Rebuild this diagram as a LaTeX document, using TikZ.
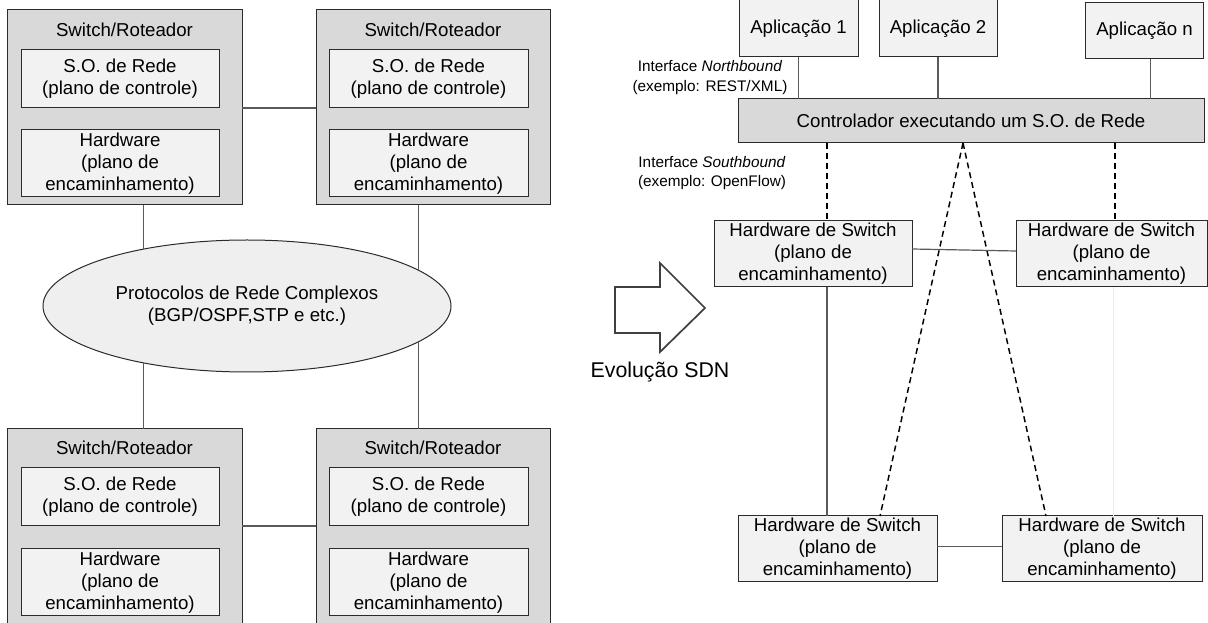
\documentclass[tikz,border=0pt]{standalone}
\usepackage{fontspec}
\setmainfont{Liberation Sans}
\usetikzlibrary{shapes.geometric}
\definecolor{outerfill}{HTML}{D9D9D9}
\definecolor{innerfill}{HTML}{F2F2F2}
\definecolor{ellfill}{HTML}{EFEFEF}
\definecolor{edgecol}{HTML}{2B2B2B}
\definecolor{wirecol}{HTML}{5A5A5A}
\definecolor{faintcol}{HTML}{EBEBEB}
\definecolor{arrowcol}{HTML}{404040}

\begin{document}
\begin{tikzpicture}[x=0.75pt,y=-0.75pt,
  sz/.style 2 args={minimum width=#1*0.75pt, minimum height=#2*0.75pt},
  blk/.style={draw=edgecol, line width=0.75pt, inner sep=0pt, outer sep=0pt,
    align=center, font=\fontsize{14}{16.5}\selectfont},
  panel/.style={blk, fill=outerfill},
  part/.style={blk, fill=innerfill},
  txt/.style={inner sep=0pt, align=center, font=\fontsize{14}{16.5}\selectfont},
  smalltxt/.style={inner sep=0pt, align=center, font=\fontsize{11.5}{14.7}\selectfont},
  wire/.style={draw=wirecol, line width=0.9pt},
  ctrlwire/.style={draw=black, line width=1.1pt, dash pattern=on 4.5pt off 3pt},
]
\useasboundingbox (0,0) rectangle (1208,623);

% ---------- traditional network: four switch/router panels ----------
\node[panel, sz={235}{195}] (tl) at (124.5,107.5) {};
\node[txt] (tlt) at (124.5,30) {Switch/Roteador};
\node[part, sz={198}{58}] (tlso) at (120,79) {S.O. de Rede\\(plano de controle)};
\node[part, sz={198}{67}] (tlhw) at (120,163.5) {Hardware\\(plano de\\encaminhamento)};

\node[panel, sz={234}{195}] (tr) at (433,107.5) {};
\node[txt] (trt) at (433,30) {Switch/Roteador};
\node[part, sz={199}{58}] (trso) at (428.5,79) {S.O. de Rede\\(plano de controle)};
\node[part, sz={199}{67}] (trhw) at (428.5,163.5) {Hardware\\(plano de\\encaminhamento)};

\node[panel, sz={235}{195}] (bl) at (124.5,526.5) {};
\node[txt] (blt) at (124.5,448) {Switch/Roteador};
\node[part, sz={198}{58}] (blso) at (120,497) {S.O. de Rede\\(plano de controle)};
\node[part, sz={198}{67}] (blhw) at (120,582.5) {Hardware\\(plano de\\encaminhamento)};

\node[panel, sz={234}{195}] (br) at (433,526.5) {};
\node[txt] (brt) at (433,448) {Switch/Roteador};
\node[part, sz={199}{58}] (brso) at (428.5,497) {S.O. de Rede\\(plano de controle)};
\node[part, sz={199}{67}] (brhw) at (428.5,582.5) {Hardware\\(plano de\\encaminhamento)};

% distributed protocols
\node[ellipse, draw=edgecol, line width=0.75pt, fill=ellfill, inner sep=0pt,
  sz={408}{132}, align=center, font=\fontsize{14}{16.5}\selectfont] (ell) at (247,306)
  {Protocolos de Rede Complexos\\(BGP/OSPF,STP e etc.)};

\draw[wire] (tlso.south -| tl.east) -- (tlso.south -| tr.west);
\draw[wire] (blso.south -| bl.east) -- (blso.south -| br.west);
\draw[wire] (tl.south -| ell.151) -- (ell.151);
\draw[wire] (tr.south -| ell.12) -- (ell.12);
\draw[wire] (ell.-151) -- (ell.-151 |- bl.north);
\draw[wire] (ell.-12) -- (ell.-12 |- br.north);

% ---------- evolution arrow ----------
\draw[draw=arrowcol, fill=white, line width=1.3pt, line join=miter]
  (615,287) -- (660,287) -- (660,263) -- (705,308) -- (660,352)
  -- (660,333) -- (615,333) -- cycle;
\node[inner sep=0pt, font=\fontsize{16}{19}\selectfont] (evo) at (660,372) {Evolução SDN};

% ---------- SDN architecture ----------
\node[part, sz={119}{57}] (a1) at (798.5,28.5) {Aplicação 1};
\node[part, sz={118}{57}] (a2) at (938,28.5) {Aplicação 2};
\node[part, sz={118}{56}] (an) at (1144.5,31) {Aplicação n};

\node[panel, sz={466}{44}] (ctl) at (971,121) {Controlador executando um S.O. de Rede};

\node[part, sz={198}{66}] (s1) at (813,254) {Hardware de Switch\\(plano de\\encaminhamento)};
\node[part, sz={191}{66}] (s2) at (1111.5,254) {Hardware de Switch\\(plano de\\encaminhamento)};
\node[part, sz={199}{66}] (s3) at (837.5,549) {Hardware de Switch\\(plano de\\encaminhamento)};
\node[part, sz={200}{66}] (s4) at (1102,549) {Hardware de Switch\\(plano de\\encaminhamento)};

\node[smalltxt] (nb) at (710,77.5) {Interface \textit{Northbound}\\(exemplo: REST/XML)};
\node[smalltxt] (sb) at (712,173) {Interface \textit{Southbound}\\(exemplo: OpenFlow)};

% reference columns for the links
\coordinate (k1) at (827,0);
\coordinate (k2) at (1115,0);
\coordinate (k3) at (1113,0);
\coordinate (apx) at (963,0);
\coordinate (e1) at (880,0);
\coordinate (e2) at (1046,0);

% northbound links
\draw[wire] (a1.south) -- (a1.south |- ctl.north);
\draw[wire] (a2.south) -- (a2.south |- ctl.north);
\draw[wire] ([xshift=4.5pt]an.south) -- ([xshift=4.5pt]an.south |- ctl.north);

% southbound links
\draw[ctrlwire] (ctl.south -| k1) -- (s1.north -| k1);
\draw[ctrlwire] (ctl.south -| k2) -- (s2.north -| k2);
\draw[ctrlwire] (ctl.south -| apx) -- (s3.north -| e1);
\draw[ctrlwire] (ctl.south -| apx) -- (s4.north -| e2);

% data plane links
\draw[wire] ([yshift=3.75pt]s1.east) -- ([yshift=2.25pt]s2.west);
\draw[wire] ([yshift=1.7pt]s3.east) -- ([yshift=1.7pt]s4.west);
\draw[wire] (s1.south -| k1) -- (s3.north -| k1);
\draw[draw=faintcol, line width=0.75pt] (s2.south -| k3) -- (s4.north -| k3);
\end{tikzpicture}
\end{document}
